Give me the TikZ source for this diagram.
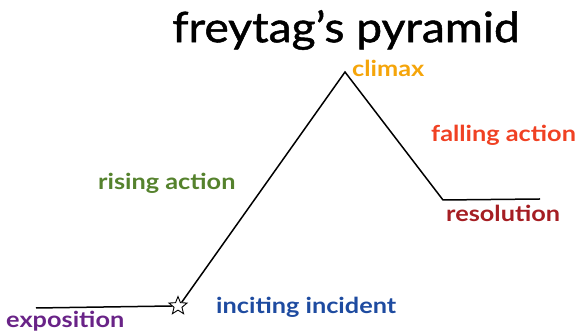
\documentclass[tikz,border=0pt]{standalone}
\usepackage{fontspec}
\setmainfont{Lato}
\newfontfamily\titlefont[FakeStretch=1.1,FakeBold=1.2]{Lato}
\newfontfamily\labelfont[FakeStretch=1.15]{Lato Bold}
\usetikzlibrary{shapes.geometric}
\definecolor{cclimax}{RGB}{245,165,10}
\definecolor{cfall}{RGB}{240,65,35}
\definecolor{crise}{RGB}{85,130,45}
\definecolor{cres}{RGB}{165,30,35}
\definecolor{cinc}{RGB}{30,75,160}
\definecolor{cexp}{RGB}{105,35,135}
\begin{document}
\begin{tikzpicture}[x=1pt,y=1pt,
  plotline/.style={line width=1.5pt,black},
  lbl/.style={inner sep=0pt,font=\labelfont\fontsize{22}{22}\selectfont}]
\useasboundingbox (0,0) rectangle (576,331);
\node[inner sep=0pt,font=\titlefont\fontsize{42}{42}\selectfont] (title) at (346,301) {freytag’s pyramid};
\coordinate (e0) at (36,23);
\node[star,star points=5,star point ratio=2.3,draw,line width=0.9pt,minimum size=19pt,inner sep=0pt] (star) at (178,25) {};
\coordinate (peak) at (345,259);
\coordinate (r0) at (443,131);
\coordinate (r1) at (540,132);
\draw[plotline] (e0) -- (star.west);
\draw[plotline] (star.north east) -- (peak) -- (r0) -- (r1);
\node[lbl,text=cclimax,anchor=west] (climax) at (352,263) {climax};
\node[lbl,text=cfall,anchor=west] (fall) at (431,196) {falling action};
\node[lbl,text=crise,anchor=west] (rise) at (98,148) {rising action};
\node[lbl,text=cres,anchor=west] (res) at (446,118) {resolution};
\node[lbl,text=cinc,anchor=west] (inc) at (216,24) {inciting incident};
\node[lbl,text=cexp,anchor=west] (exp) at (6,10) {exposition};
\end{tikzpicture}
\end{document}
